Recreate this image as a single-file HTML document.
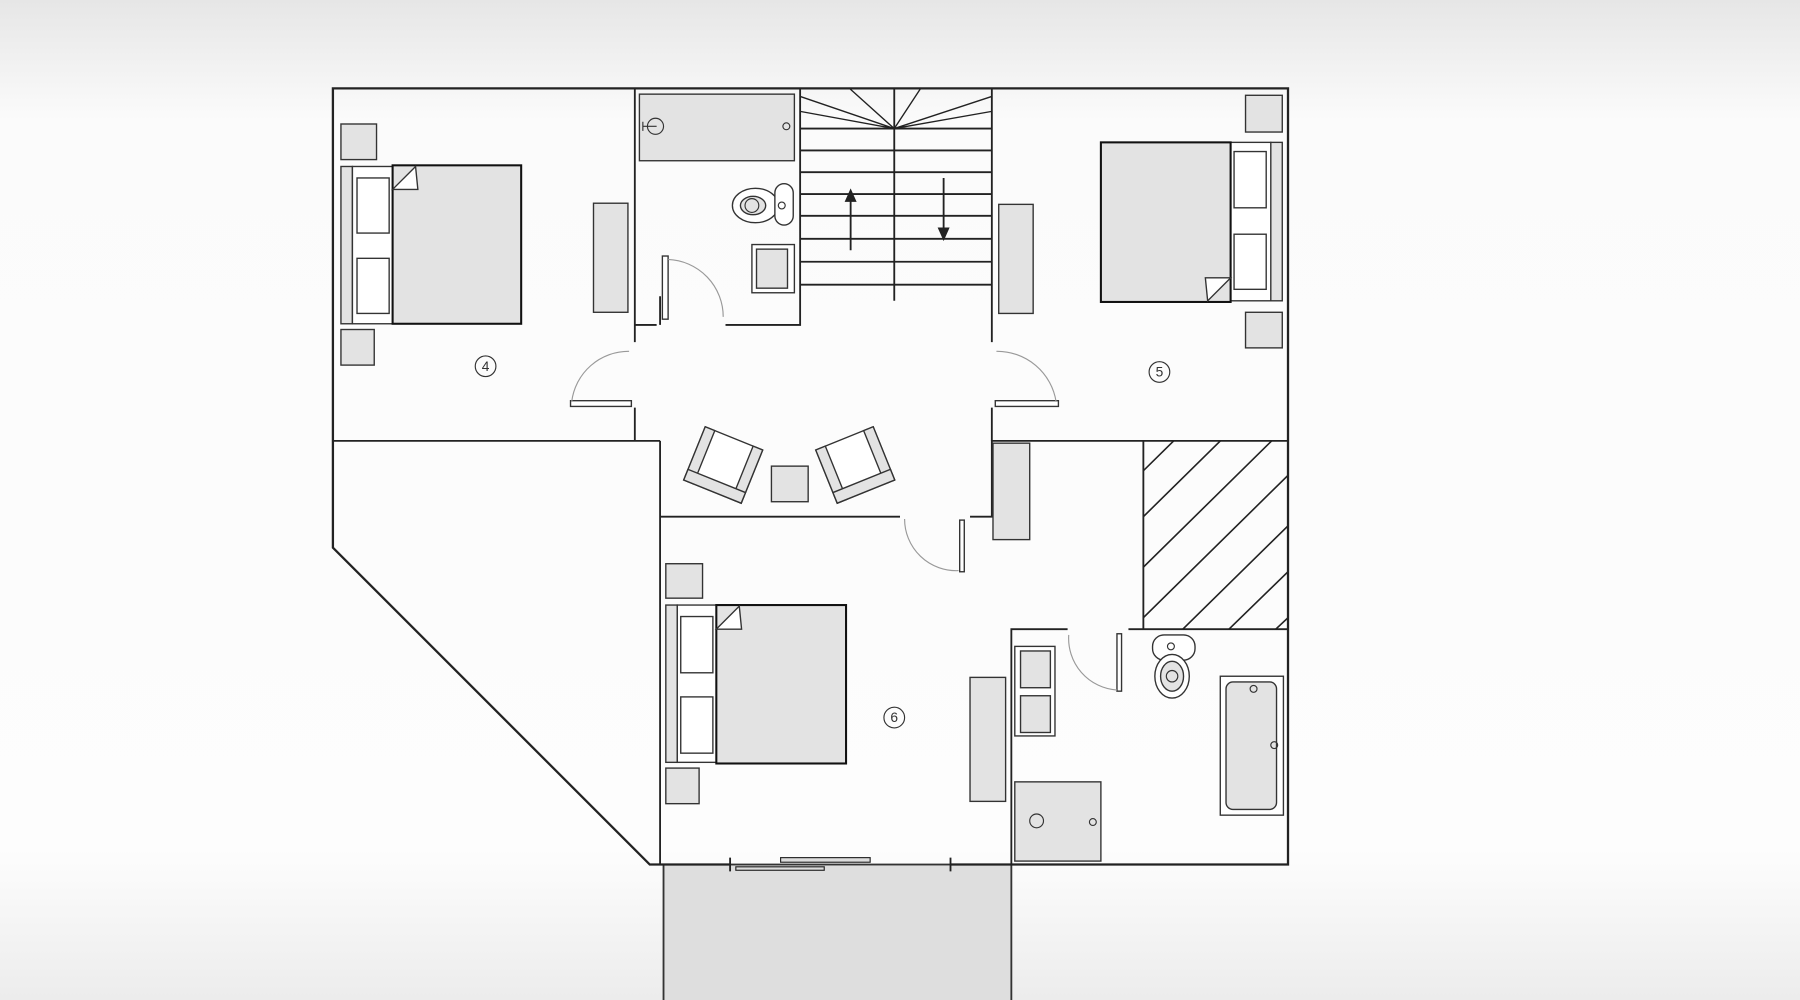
<!DOCTYPE html>
<html><head><meta charset="utf-8"><style>
html,body{margin:0;padding:0;width:1800px;height:1000px;overflow:hidden;background:#fff}
svg{display:block}
</style></head><body>
<svg width="1800" height="1000" viewBox="0 0 1568 871" preserveAspectRatio="none" xmlns="http://www.w3.org/2000/svg">
<defs>
<linearGradient id="bg" x1="0" y1="0" x2="0" y2="1">
<stop offset="0" stop-color="#e6e6e6"/><stop offset="0.12" stop-color="#fbfbfb"/><stop offset="0.85" stop-color="#fdfdfd"/><stop offset="1" stop-color="#ececec"/>
</linearGradient>
<clipPath id="hc"><rect x="996" y="384" width="126" height="164"/></clipPath>
</defs>
<rect width="1568" height="871" fill="url(#bg)"/>
<g fill="none" stroke="#222" stroke-width="1.6">
<rect x="578" y="753" width="303" height="130" fill="#dedede" stroke="#333"/>
<path d="M636,753 L566,753 L290,477 L290,77 L1122,77 L1122,753 L828,753" stroke-width="2"/>
<path d="M636,747 V759 M828,747 V759"/>
<rect x="680" y="747" width="78" height="4" fill="#ddd" stroke-width="1"/>
<rect x="641" y="755" width="77" height="3" fill="#ddd" stroke-width="1"/>
<path d="M290,384 H575 M553,384 V355 M553,298 V77"/>
<path d="M575,384 V753"/>
<path d="M575,450 H784 M845,450 H864 V384 H1122"/>
<path d="M864,77 V298 M864,355 V384"/>
<path d="M553,283 H572 M575,283 V258 M632,283 H697 V77"/>
<path d="M881,753 V548 H930 M983,548 H1122"/>
<path d="M996,384 V548"/>
<path d="M779,77 V262"/>
<path d="M697,112 H864 M697,131 H864 M697,150 H864 M697,169 H864 M697,188 H864 M697,208 H864 M697,228 H864 M697,248 H864"/>
<path d="M779,112 L697,84 M779,112 L697,97 M779,112 L740,77 M779,112 L802,77 M779,112 L864,84 M779,112 L864,97" stroke-width="1.2"/>
<path d="M741,218 V172 M822,155 V202"/>
<path d="M741,166 l-4,9 h8z M822,208 l-4,-9 h8z" fill="#222"/>
<g clip-path="url(#hc)" stroke-width="1.4">
<path d="M996,450 L1122,326 M996,494 L1122,370 M996,538 L1122,414 M1010,568 L1122,458 M1050,568 L1122,498 M1090,568 L1122,538 M996,410 L1122,286"/>
</g>
</g>
<g stroke="#333" stroke-width="1.2" fill="#e3e3e3">
<rect x="297" y="108" width="31" height="31"/>
<rect x="297" y="287" width="29" height="31"/>
<rect x="297" y="145" width="10" height="137"/>
<rect x="307" y="145" width="38" height="137" fill="#fff"/>
<rect x="311" y="155" width="28" height="48" fill="#fff"/>
<rect x="311" y="225" width="28" height="48" fill="#fff"/>
<rect x="342" y="144" width="112" height="138" stroke="#111" stroke-width="1.8"/>
<path d="M342,165 L362,145 L364,165 Z" fill="#fff"/>
<rect x="517" y="177" width="30" height="95"/>
<rect x="557" y="82" width="135" height="58"/>
<rect x="655" y="213" width="37" height="42" fill="#fff"/>
<rect x="659" y="217" width="27" height="34"/>
<ellipse cx="658" cy="179" rx="20" ry="15" fill="#fff"/>
<ellipse cx="656" cy="179" rx="11" ry="8"/>
<rect x="675" y="160" width="16" height="36" rx="8" fill="#fff"/>
<rect x="577" y="223" width="5" height="55" fill="#fff"/>
<rect x="1085" y="83" width="32" height="32"/>
<rect x="1085" y="272" width="32" height="31"/>
<rect x="1107" y="124" width="10" height="138"/>
<rect x="1070" y="124" width="37" height="138" fill="#fff"/>
<rect x="1075" y="132" width="28" height="49" fill="#fff"/>
<rect x="1075" y="204" width="28" height="48" fill="#fff"/>
<rect x="959" y="124" width="113" height="139" stroke="#111" stroke-width="1.8"/>
<path d="M1072,242 L1052,262 L1050,242 Z" fill="#fff"/>
<rect x="870" y="178" width="30" height="95"/>
<g transform="rotate(22 630 405)"><rect x="603" y="380" width="54" height="50" fill="#fff"/><rect x="603" y="380" width="9" height="50"/><rect x="648" y="380" width="9" height="50"/><rect x="603" y="420" width="54" height="10"/></g>
<g transform="rotate(-22 745 405)"><rect x="718" y="380" width="54" height="50" fill="#fff"/><rect x="718" y="380" width="9" height="50"/><rect x="763" y="380" width="9" height="50"/><rect x="718" y="420" width="54" height="10"/></g>
<rect x="672" y="406" width="32" height="31"/>
<rect x="865" y="386" width="32" height="84"/>
<rect x="836" y="453" width="4" height="45" fill="#fff"/>
<rect x="580" y="491" width="32" height="30"/>
<rect x="580" y="669" width="29" height="31"/>
<rect x="580" y="527" width="10" height="137"/>
<rect x="590" y="527" width="37" height="137" fill="#fff"/>
<rect x="593" y="537" width="28" height="49" fill="#fff"/>
<rect x="593" y="607" width="28" height="49" fill="#fff"/>
<rect x="624" y="527" width="113" height="138" stroke="#111" stroke-width="1.8"/>
<path d="M624,548 L644,528 L646,548 Z" fill="#fff"/>
<rect x="845" y="590" width="31" height="108"/>
<rect x="884" y="563" width="35" height="78" fill="#fff"/>
<rect x="889" y="567" width="26" height="32"/>
<rect x="889" y="606" width="26" height="32"/>
<rect x="884" y="681" width="75" height="69"/>
<rect x="1063" y="589" width="55" height="121" fill="#fff"/>
<rect x="1068" y="594" width="44" height="111" rx="6"/>
<rect x="1004" y="553" width="37" height="22" rx="10" fill="#fff"/>
<ellipse cx="1021" cy="589" rx="15" ry="19" fill="#fff"/>
<ellipse cx="1021" cy="589" rx="10" ry="13"/>
<rect x="973" y="552" width="4" height="50" fill="#fff"/>
<rect x="497" y="349" width="53" height="5" fill="#fff"/>
<rect x="867" y="349" width="55" height="5" fill="#fff"/>
</g>
<g fill="none" stroke="#999" stroke-width="1">
<path d="M582,226 A50,50 0 0 1 630,276"/>
<path d="M548,306 A50,50 0 0 0 498,350"/>
<path d="M868,306 A52,52 0 0 1 920,350"/>
<path d="M788,452 A45,45 0 0 0 835,497"/>
<path d="M931,553 A45,45 0 0 0 973,601"/>
</g>
<g fill="none" stroke="#333" stroke-width="1">
<circle cx="571" cy="110" r="7"/><path d="M560,106 V114 M560,110 H572"/>
<circle cx="685" cy="110" r="3"/>
<circle cx="655" cy="179" r="6"/>
<circle cx="681" cy="179" r="3"/>
<circle cx="1110" cy="649" r="3"/><circle cx="1092" cy="600" r="3"/>
<circle cx="1020" cy="563" r="3"/><circle cx="1021" cy="589" r="5"/>
<circle cx="952" cy="716" r="3"/><circle cx="903" cy="715" r="6"/>
<circle cx="423" cy="319" r="9"/><circle cx="1010" cy="324" r="9"/><circle cx="779" cy="625" r="9"/>
</g>
<g font-family="Liberation Sans, sans-serif" font-size="12" fill="#333" text-anchor="middle">
<text x="423" y="323">4</text><text x="1010" y="328">5</text><text x="779" y="629">6</text>
</g>
</svg>
</body></html>
